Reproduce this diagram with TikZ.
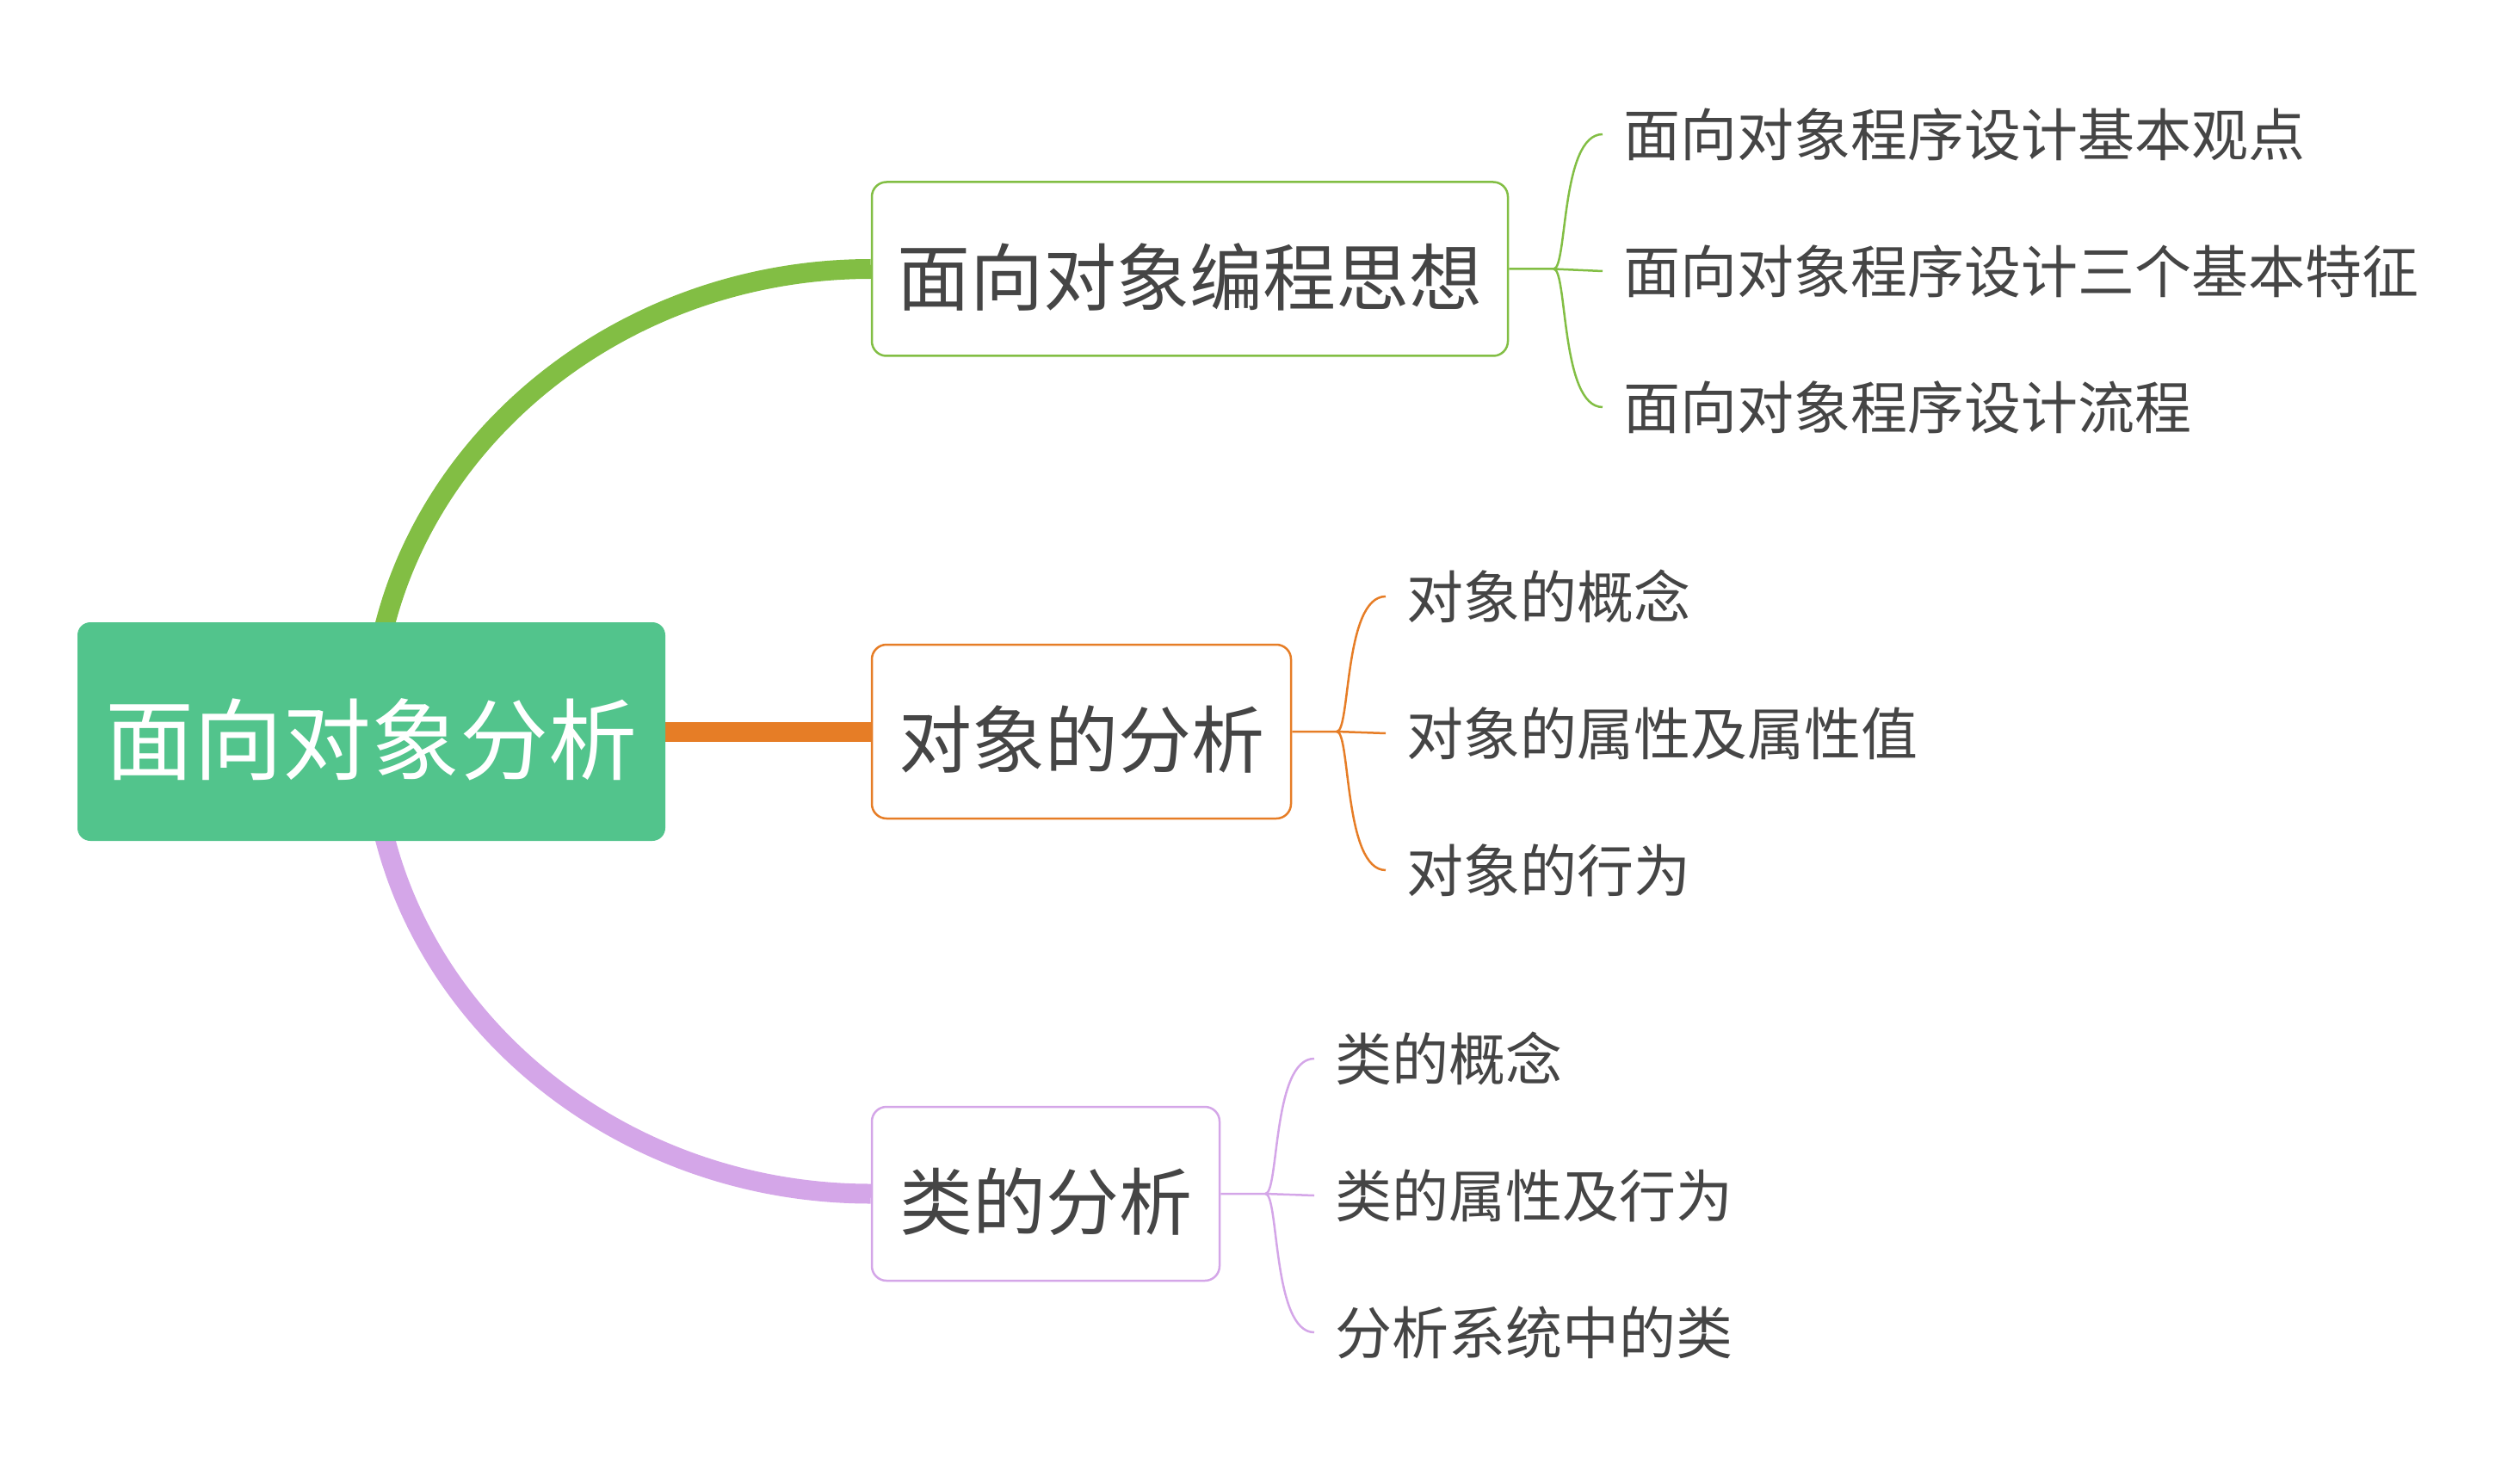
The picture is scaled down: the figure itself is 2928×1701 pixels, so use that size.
\documentclass[tikz,border=0pt]{standalone}
\usepackage{fontspec}
\setmainfont{Noto Sans CJK SC}
\usetikzlibrary{calc,backgrounds}
\definecolor{rootfill}{HTML}{52C48C}
\definecolor{cgreen}{HTML}{82BE44}
\definecolor{corange}{HTML}{E67D26}
\definecolor{cpurple}{HTML}{D4A6E8}
\definecolor{txt}{HTML}{454545}
\begin{document}
\begin{tikzpicture}[x=0.5pt,y=-0.5pt,
  rootbox/.style={fill=rootfill, rounded corners=7.5pt, minimum width=341.5pt, minimum height=127pt,
    text=white, font=\fontsize{51.5pt}{60pt}\selectfont, text height=54.3pt, text depth=6.2pt, inner sep=0pt},
  topicbox/.style={draw=#1, fill=white, line width=1.25pt, rounded corners=8.5pt, minimum height=101pt,
    text=txt, font=\fontsize{42.5pt}{50pt}\selectfont, text height=47pt, text depth=5.1pt, inner sep=0pt},
  subtopic/.style={text=txt, font=\fontsize{33pt}{40pt}\selectfont, anchor=west, inner xsep=12pt, inner ysep=0pt},
  trunk/.style={draw=#1, line width=11.5pt},
  twig/.style={draw=#1, line width=1.25pt},
]
\useasboundingbox (0,0) rectangle (2928,1701);

% central topic and main topics
\node[rootbox] (root) at (431.5,850) {面向对象分析};
\node[topicbox=cgreen, minimum width=369.5pt] (b1) at (1382.5,312.5) {面向对象编程思想};
\node[topicbox=corange, minimum width=243.5pt] (b2) at (1256.5,850) {对象的分析};
\node[topicbox=cpurple, minimum width=202pt] (b3) at (1215,1387) {类的分析};

% subtopics
\node[subtopic] (c11) at (1862,156) {面向对象程序设计基本观点};
\node[subtopic] (c12) at (1862,315) {面向对象程序设计三个基本特征};
\node[subtopic] (c13) at (1862,473) {面向对象程序设计流程};
\node[subtopic] (c21) at (1610,693) {对象的概念};
\node[subtopic] (c22) at (1610,852) {对象的属性及属性值};
\node[subtopic] (c23) at (1610,1011) {对象的行为};
\node[subtopic] (c31) at (1527,1230) {类的概念};
\node[subtopic] (c32) at (1527,1389) {类的属性及行为};
\node[subtopic] (c33) at (1527,1548) {分析系统中的类};

% main branches
\begin{scope}[on background layer]
\draw[trunk=cgreen] (root.center) .. controls ($(root.center)!0.55!(root.center|-b1.west)$) and ($(b1.west)!0.55!(root.center|-b1.west)$) .. (b1.west);
\draw[trunk=corange] (root.center) -- (b2.west);
\draw[trunk=cpurple] (root.center) .. controls ($(root.center)!0.55!(root.center|-b3.west)$) and ($(b3.west)!0.55!(root.center|-b3.west)$) .. (b3.west);
\end{scope}

% sub branches
\coordinate (j1) at ($(b1.east)+(52,0)$);
\coordinate (j2) at ($(b2.east)+(52,0)$);
\coordinate (j3) at ($(b3.east)+(52,0)$);

\draw[twig=cgreen] (b1.east) -- (j1) -- (c12.west);
\draw[twig=cgreen] (j1) .. controls ($(j1)+(16,0)$) and ($(j1|-c11.west)+(8,0)$) .. (c11.west);
\draw[twig=cgreen] (j1) .. controls ($(j1)+(16,0)$) and ($(j1|-c13.west)+(8,0)$) .. (c13.west);

\draw[twig=corange] (b2.east) -- (j2) -- (c22.west);
\draw[twig=corange] (j2) .. controls ($(j2)+(16,0)$) and ($(j2|-c21.west)+(8,0)$) .. (c21.west);
\draw[twig=corange] (j2) .. controls ($(j2)+(16,0)$) and ($(j2|-c23.west)+(8,0)$) .. (c23.west);

\draw[twig=cpurple] (b3.east) -- (j3) -- (c32.west);
\draw[twig=cpurple] (j3) .. controls ($(j3)+(16,0)$) and ($(j3|-c31.west)+(8,0)$) .. (c31.west);
\draw[twig=cpurple] (j3) .. controls ($(j3)+(16,0)$) and ($(j3|-c33.west)+(8,0)$) .. (c33.west);
\end{tikzpicture}
\end{document}
